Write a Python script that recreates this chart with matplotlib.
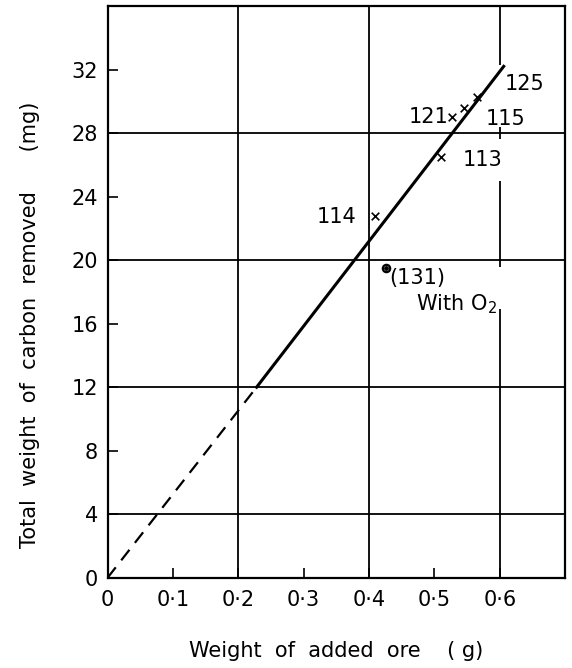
import matplotlib
matplotlib.use("Agg")
import matplotlib.pyplot as plt
import numpy as np

plt.rcParams['font.family'] = ['DejaVu Sans']

# data
x_ticks = [0, 0.1, 0.2, 0.3, 0.4, 0.5, 0.6]
x_ticklabels = ["0", "0·1", "0·2", "0·3", "0·4", "0·5", "0·6"]
y_ticks = [0, 4, 8, 12, 16, 20, 24, 28, 32]
x_grid = [0.2, 0.4]
y_grid = [4, 12, 20, 28]
# the 0.6 grid line is interrupted around the labels
x06_seg_lo = [32.3, 27.6, 19.6, 0.0]
x06_seg_hi = [36.0, 28.4, 25.0, 16.9]

run_labels = ["114", "113", "121", "115", "125"]
run_x = [0.409, 0.510, 0.527, 0.546, 0.565]
run_y = [22.8, 26.5, 29.0, 29.6, 30.3]
label_x = [0.380, 0.544, 0.521, 0.579, 0.607]
label_y = [22.7, 26.3, 29.0, 28.9, 31.1]
label_ha = ["right", "left", "right", "left", "left"]

o2_label = "(131)"
o2_x = [0.426]
o2_y = [19.5]

dashed_x = [0.0, 0.228]
dashed_y = [0.0, 12.0]
solid_x = [0.228, 0.606]
solid_y = [12.0, 32.2]

fig = plt.figure(figsize=(5.72, 6.68), dpi=100)
ax = fig.add_axes([0.188, 0.135, 0.800, 0.856])
ax.set_xlim(0, 0.7)
ax.set_ylim(0, 36)

for g in x_grid:
    ax.axvline(g, color='black', lw=1.3, zorder=1)
for g in y_grid:
    ax.axhline(g, color='black', lw=1.3, zorder=1)
ax.vlines([0.6] * len(x06_seg_lo), x06_seg_lo, x06_seg_hi, color='black', lw=1.3, zorder=1)

ax.plot(dashed_x, dashed_y, color='black', lw=1.6, ls=(0, (6, 4)), zorder=2)
ax.plot(solid_x, solid_y, color='black', lw=2.2, zorder=2)

ax.scatter(run_x, run_y, marker='x', color='black', s=30, lw=1.2, zorder=3)
ax.scatter(o2_x, o2_y, marker='o', facecolor='white', edgecolor='black', s=28, lw=1.6, zorder=3)
ax.scatter(o2_x, o2_y, marker='o', color='black', s=6, zorder=4)

fs = 15
for lab, xv, yv, ha in zip(run_labels, label_x, label_y, label_ha):
    ax.text(xv, yv, lab, ha=ha, va='center', fontsize=fs)
ax.text(0.431, 18.9, o2_label, ha='left', va='center', fontsize=fs)
ax.text(0.472, 18.0, "With O$_2$", ha='left', va='top', fontsize=fs)

ax.set_xticks(x_ticks)
ax.set_xticklabels(x_ticklabels)
ax.set_yticks(y_ticks)
ax.tick_params(direction='in', length=7, width=1.2, labelsize=15, colors='black')
ax.tick_params(axis='x', pad=9)
ax.tick_params(axis='y', pad=7)
for s in ax.spines.values():
    s.set_linewidth(1.6)

ax.set_xlabel("Weight  of  added  ore    ( g)", fontsize=15, labelpad=22)
ax.set_ylabel("Total  weight  of  carbon  removed      (mg)", fontsize=15)
ax.yaxis.set_label_coords(-0.148, 0.443)

fig.savefig("out.png", dpi=100)
